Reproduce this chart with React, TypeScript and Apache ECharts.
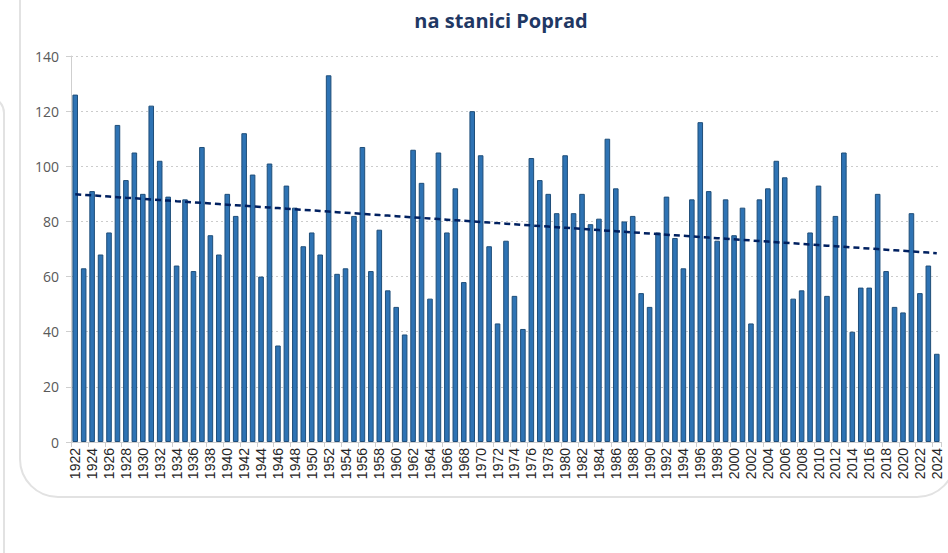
import React, { useEffect, useRef } from "react";
import * as echarts from "echarts";

const firstYear = 1922;
const lastYear = 2024;
const years: string[] = [];
for (let y = firstYear; y <= lastYear; y++) years.push(String(y));

const values1922to1951 = [126, 63, 91, 68, 76, 115, 95, 105, 90, 122, 102, 89, 64, 88, 62, 107, 75, 68, 90, 82, 112, 97, 60, 101, 35, 93, 85, 71, 76, 68];
const values1952to1981 = [133, 61, 63, 82, 107, 62, 77, 55, 49, 39, 106, 94, 52, 105, 76, 92, 58, 120, 104, 71, 43, 73, 53, 41, 103, 95, 90, 83, 104, 83];
const values1982to2011 = [90, 79, 81, 110, 92, 80, 82, 54, 49, 76, 89, 74, 63, 88, 116, 91, 73, 88, 75, 85, 43, 88, 92, 102, 96, 52, 55, 76, 93, 53];
const values2012to2024 = [82, 105, 40, 56, 56, 90, 62, 49, 47, 83, 54, 64, 32];
const values = [...values1922to1951, ...values1952to1981, ...values1982to2011, ...values2012to2024];

const yTicks = { min: 0, max: 140, interval: 20 };
const titleText = "na stanici Poprad";

// linear least-squares trend computed from the data
function trend(vals: number[]): number[] {
  const n = vals.length;
  let sx = 0, sy = 0, sxy = 0, sxx = 0;
  vals.forEach((v, i) => { sx += i; sy += v; sxy += i * v; sxx += i * i; });
  const b = (n * sxy - sx * sy) / (n * sxx - sx * sx);
  const a = (sy - b * sx) / n;
  return vals.map((_, i) => +(a + b * i).toFixed(3));
}

export default function App() {
  const ref = useRef<HTMLDivElement>(null);
  useEffect(() => {
    if (!ref.current) return;
    const chart = echarts.init(ref.current, null, { renderer: "svg" });
    chart.setOption({
      animation: false,
      backgroundColor: "#ffffff",
      graphic: [
        {
          type: "rect",
          z: -10,
          silent: true,
          shape: { x: 20, y: -60, width: 935, height: 557, r: 38 },
          style: { fill: "none", stroke: "#e2e2e2", lineWidth: 2 },
        },
        {
          type: "rect",
          z: -10,
          silent: true,
          shape: { x: -100, y: 97, width: 104, height: 600, r: 16 },
          style: { fill: "none", stroke: "#e2e2e2", lineWidth: 2 },
        },
      ],
      title: {
        text: titleText,
        left: 496,
        textAlign: "center",
        top: 5,
        textStyle: {
          fontFamily: "Open Sans",
          fontWeight: "bold",
          fontSize: 20,
          color: "#1f3864",
        },
      },
      grid: { left: 71, right: 7, top: 56, bottom: 111, containLabel: false },
      xAxis: {
        type: "category",
        data: years,
        boundaryGap: true,
        axisLine: { show: true, lineStyle: { color: "#cfcfcf", width: 1 } },
        axisTick: { show: true, interval: 1, length: 5, lineStyle: { color: "#cfcfcf" } },
        axisLabel: {
          interval: 1,
          rotate: 90,
          margin: 6,
          fontFamily: "Liberation Sans",
          fontSize: 14,
          color: "#262626",
        },
        splitLine: { show: false },
      },
      yAxis: {
        type: "value",
        min: yTicks.min,
        max: yTicks.max,
        interval: yTicks.interval,
        axisLine: { show: true, lineStyle: { color: "#cfcfcf", width: 1 } },
        axisTick: { show: true, length: 5, lineStyle: { color: "#cfcfcf" } },
        axisLabel: {
          margin: 12,
          fontFamily: "Open Sans",
          fontSize: 14,
          color: "#595959",
        },
        splitLine: { show: true, lineStyle: { color: "#cccccc", type: [2, 3], width: 1 } },
      },
      series: [
        {
          type: "bar",
          data: values,
          barWidth: "66%",
          itemStyle: { color: "#2e73b4", borderColor: "#1f4e79", borderWidth: 1 },
        },
        {
          type: "line",
          data: trend(values),
          symbol: "none",
          lineStyle: { color: "#002060", width: 2.5, type: [6, 4] },
          z: 5,
        },
      ],
    });
    return () => chart.dispose();
  }, []);
  return (
    <div
      ref={ref}
      style={{ position: "fixed", left: 0, top: 0, width: 948, height: 553 }}
    />
  );
}
